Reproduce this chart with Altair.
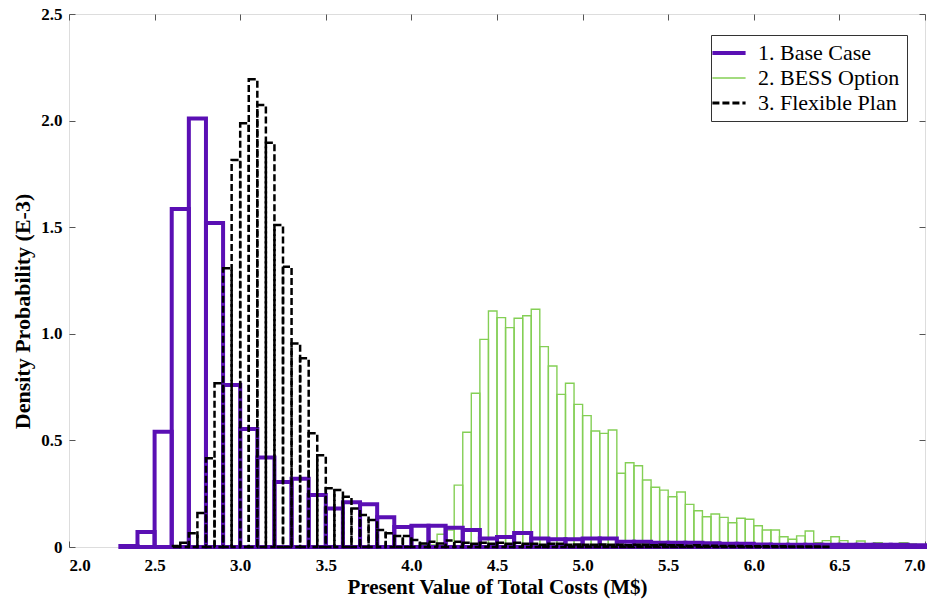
import altair as alt
import pandas as pd

# ---------------- data ----------------
series_names = ["1. Base Case", "2. BESS Option", "3. Flexible Plan"]
series_colors = ["#5a0fb4", "#84cf55", "#000000"]

# Base case histogram: bins of 0.1 starting at 2.3
base_start = 2.3
base_width = 0.1
base_values = [0.005, 0.07, 0.54, 1.585, 2.01, 1.52, 0.76, 0.553, 0.42, 0.305,
               0.32, 0.244, 0.18, 0.21, 0.20, 0.14, 0.094, 0.10, 0.10, 0.09,
               0.08, 0.04, 0.047, 0.066, 0.04, 0.036, 0.036, 0.04, 0.04, 0.025,
               0.025, 0.02, 0.02, 0.02, 0.018, 0.015, 0.015, 0.012, 0.01, 0.01,
               0.01, 0.01, 0.01, 0.01, 0.01, 0.01, 0.008]

# BESS option histogram: bins of 0.05 starting at 4.05
bess_start = 4.05
bess_width = 0.05
bess_values = [0.01, 0.01, 0.06, 0.08, 0.29, 0.538, 0.721, 0.974, 1.107, 1.076,
               1.029, 1.073, 1.085, 1.115, 0.94, 0.849, 0.716, 0.768, 0.669, 0.616,
               0.544, 0.533, 0.549, 0.346, 0.395, 0.381, 0.314, 0.28, 0.267, 0.236,
               0.258, 0.2, 0.17, 0.142, 0.155, 0.139, 0.114, 0.135, 0.13, 0.1,
               0.08, 0.08, 0.048, 0.036, 0.052, 0.075, 0.02, 0.03, 0.048, 0.03,
               0.005, 0.028, 0.01, 0.02, 0.014, 0.01, 0.02, 0.014, 0.005]

# Flexible plan histogram: bins of 0.05 starting at 2.6
flex_start = 2.6
flex_width = 0.05
flex_values = [0.005, 0.02, 0.064, 0.16, 0.416, 0.768, 1.307, 1.815, 1.987, 2.194,
               2.073, 1.896, 1.51, 1.315, 0.955, 0.885, 0.533, 0.43, 0.275, 0.267,
               0.236, 0.18, 0.15, 0.127, 0.08, 0.064, 0.052, 0.052, 0.033, 0.017,
               0.025, 0.017, 0.03, 0.025, 0.02, 0.015, 0.02, 0.015, 0.02, 0.015,
               0.02, 0.015, 0.015, 0.01, 0.015, 0.015, 0.01, 0.012, 0.01, 0.01,
               0.012, 0.01, 0.01, 0.008, 0.01, 0.01, 0.008, 0.01, 0.008, 0.008,
               0.006, 0.008, 0.006, 0.006, 0.005, 0.005, 0.005, 0.004, 0.004, 0.003,
               0.003, 0.003, 0.002, 0.002, 0.002, 0.002, 0.001]

x_ticks = [2.0, 2.5, 3.0, 3.5, 4.0, 4.5, 5.0, 5.5, 6.0, 6.5, 7.0]
y_ticks = [0.0, 0.5, 1.0, 1.5, 2.0, 2.5]

x_title = "Present Value of Total Costs (M$)"
y_title = "Density Probability (E-3)"


def make_rows(name, start, width, values):
    rows = []
    for i, v in enumerate(values):
        s = round(start + i * width, 4)
        rows.append({"series": name, "start": s, "end": round(s + width, 4),
                     "value": v, "zero": 0.0})
    return rows


df = pd.DataFrame(
    make_rows(series_names[0], base_start, base_width, base_values)
    + make_rows(series_names[1], bess_start, bess_width, bess_values)
    + make_rows(series_names[2], flex_start, flex_width, flex_values)
)

FONT = "Liberation Serif"

xscale = alt.Scale(domain=[2.0, 7.0], nice=False, zero=False)
yscale = alt.Scale(domain=[0, 2.5], nice=False)

legend = alt.Legend(
    title=None, orient="none", legendX=642, legendY=21,
    symbolType="stroke", symbolSize=1100,
    symbolStrokeWidth={"expr": "datum.value == '1. Base Case' ? 4 : (datum.value == '2. BESS Option' ? 1.5 : 3)"},
    labelFont=FONT, labelFontSize=22, labelColor="#000",
    labelLimit=300, rowPadding=3, padding=7, labelOffset=18,
    strokeColor="#333", fillColor="white",
)

color_enc = alt.Color("series:N", scale=alt.Scale(domain=series_names, range=series_colors), legend=legend)
dash_enc = alt.StrokeDash("series:N",
                          scale=alt.Scale(domain=series_names, range=[[1, 0], [1, 0], [7, 3]]),
                          legend=legend)

bottom_axis = alt.Axis(orient="bottom", values=x_ticks, format=".1f", grid=False, domain=False,
                       offset=-6, tickSize=6, labelPadding=10, tickColor="#555",
                       labelFont=FONT, labelFontSize=17, labelFontWeight="bold", labelColor="#000",
                       title=x_title, titleFont=FONT, titleFontSize=21, titleFontWeight="bold",
                       titleColor="#000", titlePadding=3)
left_axis = alt.Axis(orient="left", values=y_ticks, grid=False, domain=False,
                     labelExpr="datum.value == 0 ? '0' : format(datum.value, '.1f')",
                     offset=-6, tickSize=6, labelPadding=7, tickColor="#555",
                     labelFont=FONT, labelFontSize=17, labelFontWeight="bold", labelColor="#000",
                     title=y_title, titleFont=FONT, titleFontSize=22, titleFontWeight="bold",
                     titleColor="#000", titlePadding=6, titleY=297)
top_axis = alt.Axis(orient="top", values=x_ticks, grid=False, domain=False, labels=False,
                    offset=-6, tickSize=6, tickColor="#555", title=None)
right_axis = alt.Axis(orient="right", values=y_ticks, grid=False, domain=False, labels=False,
                      offset=-6, tickSize=6, tickColor="#555", title=None)


def layer(name, width, xaxis, yaxis):
    return alt.Chart(df).transform_filter(alt.datum.series == name).mark_bar(
        filled=False, strokeWidth=width
    ).encode(
        x=alt.X("start:Q", scale=xscale, axis=xaxis),
        x2="end:Q",
        y=alt.Y("value:Q", scale=yscale, axis=yaxis),
        y2="zero:Q",
        color=color_enc,
        strokeDash=dash_enc,
    )


green = layer(series_names[1], 1.4, bottom_axis, left_axis)
purple = layer(series_names[0], 4, None, None)
black = layer(series_names[2], 2.5, top_axis, right_axis)

chart = alt.layer(green, purple, black).properties(
    width=856, height=533,
    autosize=alt.AutoSizeParams(type="none"),
    padding={"left": 69, "top": 14, "right": 11, "bottom": 58},
).configure_view(
    stroke="#555", strokeWidth=1.3
).configure_legend(
    labelFont=FONT, labelFontSize=22, labelColor="#000"
).configure(background="white")

chart.save("out.html", embed_options={"renderer": "svg", "actions": False})
